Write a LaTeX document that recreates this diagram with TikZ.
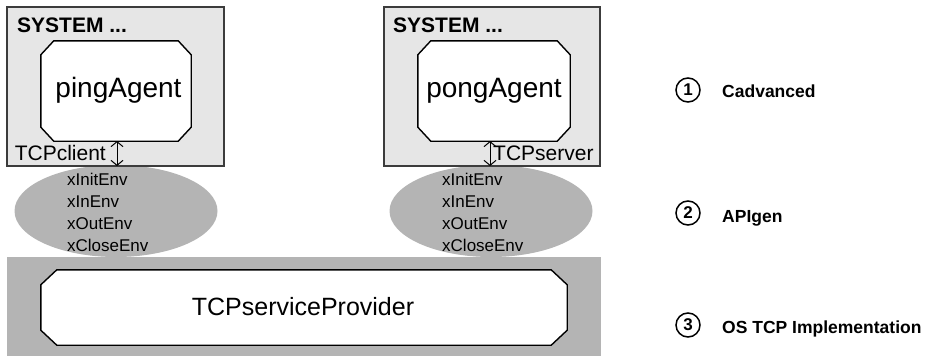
\documentclass[tikz,border=0pt]{standalone}
\usepackage{fontspec}
\setmainfont{Liberation Sans}
\usetikzlibrary{arrows.meta,calc,shapes.geometric}

\definecolor{sysfill}{HTML}{E6E6E6}
\definecolor{sysline}{HTML}{3C3C3C}
\definecolor{layergray}{HTML}{B4B4B4}

% chamfered outline drawn round a named frame node: #1 style, #2 node, #3/#4 cut
\newcommand\octpath[4]{%
  \draw[#1] ($(#2.north west)+(#3,0)$) -- ($(#2.north east)+(-#3,0)$)
    -- ($(#2.north east)+(0,#4)$) -- ($(#2.south east)+(0,-#4)$)
    -- ($(#2.south east)+(-#3,0)$) -- ($(#2.south west)+(#3,0)$)
    -- ($(#2.south west)+(0,-#4)$) -- ($(#2.north west)+(0,#4)$) -- cycle;}

\begin{document}
\begin{tikzpicture}[x=1pt,y=-1pt,
  frame/.style={draw=none,inner sep=0pt,minimum width=#1},
  sysbox/.style={draw=sysline,fill=sysfill,line width=1.2pt,inner sep=0pt},
  octline/.style={draw=black,fill=white,line width=1.4pt},
  envell/.style={ellipse,fill=layergray,draw=none,inner sep=0pt,
    minimum width=203pt,minimum height=92pt},
  envtext/.style={anchor=base west,inner sep=0pt,font=\fontsize{17}{20}\selectfont},
  agenttext/.style={anchor=base,inner sep=0pt,font=\fontsize{28}{32}\selectfont},
  systitle/.style={anchor=base west,inner sep=0pt,font=\fontsize{21}{24}\selectfont\bfseries},
  porttext/.style={inner sep=0pt,font=\fontsize{21}{24}\selectfont},
  dbl/.style={line width=1pt,{Straight Barb[length=5pt,width=12pt]}-{Straight Barb[length=5pt,width=12pt]}},
  numcirc/.style={circle,draw,line width=1.5pt,minimum size=24pt,inner sep=0pt,
    font=\fontsize{17}{17}\selectfont\bfseries},
  legtext/.style={anchor=base west,inner sep=0pt,font=\fontsize{17.5}{20}\selectfont\bfseries}]

\useasboundingbox (0,0) rectangle (933,356);

% interface layer ellipses and the OS layer bar
\node[envell] (envL) at (116,211) {};
\node[envell] (envR) at (491,211) {};
\node[fill=layergray,inner sep=0pt,minimum width=594pt,minimum height=99pt] (bar) at (304,306.5) {};

% system frames
\node[sysbox,minimum width=217pt,minimum height=159pt] (sysL) at (115.5,86.5) {};
\node[sysbox,minimum width=216pt,minimum height=159pt] (sysR) at (492,86.5) {};

% agents and service provider
\node[frame=150pt,minimum height=100pt] (ping) at (116,91) {};
\node[frame=152pt,minimum height=100pt] (pong) at (494,91) {};
\node[frame=526pt,minimum height=75pt] (tcp) at (304,307.5) {};
\octpath{octline}{ping}{13}{14}
\octpath{octline}{pong}{13}{14}
\octpath{octline}{tcp}{16}{15}

\node[agenttext] (pingtxt) at (118.5,97) {pingAgent};
\node[agenttext] (pongtxt) at (494,97) {pongAgent};
\node[anchor=base,inner sep=0pt,font=\fontsize{25}{28}\selectfont] (tcptxt) at (303,315) {TCPserviceProvider};

\node[systitle] (titleL) at (17,32) {SYSTEM ...};
\node[systitle] (titleR) at (393,32) {SYSTEM ...};

% ports between agent and environment
\coordinate (pingtop) at (117,141);
\coordinate (pingbot) at (117,166);
\coordinate (pongtop) at (490,141);
\coordinate (pongbot) at (490,166);
\draw[dbl] (pingtop) -- (pingbot);
\draw[dbl] (pongtop) -- (pongbot);
\node[porttext,anchor=base east] (clientlbl) at (106,160) {TCPclient};
\node[porttext,anchor=base west] (serverlbl) at (493,160) {TCPserver};

% environment functions
\foreach \t [count=\i] in {xInitEnv,xInEnv,xOutEnv,xCloseEnv}{
  \node[envtext] (fL\i) at (67,{163+22*\i}) {\t};
  \node[envtext] (fR\i) at (442,{163+22*\i}) {\t};
}

% legend
\node[numcirc] (n1) at (688,90) {1};
\node[numcirc] (n2) at (688,213) {2};
\node[numcirc] (n3) at (688,325) {3};
\node[legtext] (l1) at (722,97) {Cadvanced};
\node[legtext] (l2) at (722,222) {APIgen};
\node[legtext] (l3) at (722,333) {OS TCP Implementation};
\end{tikzpicture}
\end{document}
